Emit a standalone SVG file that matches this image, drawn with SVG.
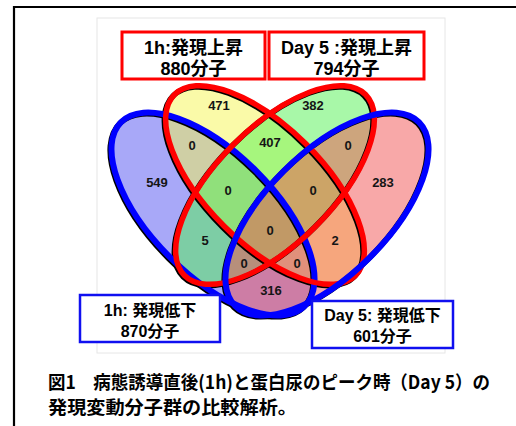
<svg xmlns="http://www.w3.org/2000/svg" width="516" height="426" viewBox="0 0 516 426">
<style>
.num{font-family:"Liberation Sans",Arial,sans-serif;font-weight:bold;font-size:13px;fill:#151515;text-anchor:middle}
.lbl{font-family:"Liberation Sans","Noto Sans CJK JP",sans-serif;font-weight:bold;fill:#000;text-anchor:middle}
.cap{font-family:"Noto Sans CJK JP",sans-serif;font-weight:bold;font-size:18.5px;fill:#000}
.rbox{fill:#fff;stroke:#ff0000;stroke-width:3}
.bbox{fill:#fff;stroke:#1010f0;stroke-width:2.5}
.sh{fill:none;stroke:#000;stroke-width:5.5}
</style>
<rect width="516" height="426" fill="#fff"/>
<path d="M14,426 V7 H516" fill="none" stroke="#000" stroke-width="2.2"/>
<rect x="97" y="18" width="348" height="335" fill="#fff" stroke="#e6e6e6" stroke-width="1"/>
<defs>
<ellipse id="eB" cx="213" cy="214" rx="130" ry="61" transform="rotate(45 213 214)"/>
<ellipse id="eY" cx="265" cy="185" rx="128" ry="58" transform="rotate(45 265 185)"/>
<ellipse id="eG" cx="275" cy="185" rx="128" ry="58" transform="rotate(-45 275 185)"/>
<ellipse id="eP" cx="327" cy="214" rx="130" ry="61" transform="rotate(-45 327 214)"/>
</defs>
<g id="fills">
<use href="#eB" fill="#5151f1" fill-opacity="0.5"/>
<use href="#eY" fill="#f5f551" fill-opacity="0.5"/>
<use href="#eG" fill="#51f151" fill-opacity="0.5"/>
<use href="#eP" fill="#f15151" fill-opacity="0.5"/>
</g>
<g id="shadows" transform="translate(-1.3,1.3)">
<use href="#eB" class="sh"/>
<use href="#eY" class="sh"/>
<use href="#eG" class="sh"/>
<use href="#eP" class="sh"/>
</g>
<g id="set-1h-down"><use href="#eB" fill="none" stroke="#0000ff" stroke-width="6"/></g>
<g id="set-1h-up"><use href="#eY" fill="none" stroke="#ff0000" stroke-width="5.5"/></g>
<g id="set-day5-up"><use href="#eG" fill="none" stroke="#ff0000" stroke-width="5.5"/></g>
<g id="set-day5-down"><use href="#eP" fill="none" stroke="#0000ff" stroke-width="6"/></g>
<g id="counts">
<text class="num" x="219" y="110">471</text>
<text class="num" x="313" y="110">382</text>
<text class="num" x="192" y="150">0</text>
<text class="num" x="270" y="147">407</text>
<text class="num" x="348" y="150">0</text>
<text class="num" x="157" y="187">549</text>
<text class="num" x="383" y="187">283</text>
<text class="num" x="228" y="195">0</text>
<text class="num" x="313" y="195">0</text>
<text class="num" x="270" y="235">0</text>
<text class="num" x="205" y="245">5</text>
<text class="num" x="335" y="245">2</text>
<text class="num" x="244" y="268">0</text>
<text class="num" x="297" y="268">0</text>
<text class="num" x="271" y="295">316</text>
</g>
<g id="label-1h-up">
<rect class="rbox" x="122" y="32" width="143" height="47"/>
<text class="lbl" x="193.5" y="54" font-size="18">1h:発現上昇</text>
<text class="lbl" x="193.5" y="75" font-size="18">880分子</text>
</g>
<g id="label-day5-up">
<rect class="rbox" x="269" y="32" width="155" height="47"/>
<text class="lbl" x="346.5" y="54" font-size="18">Day 5 :発現上昇</text>
<text class="lbl" x="346.5" y="75" font-size="18">794分子</text>
</g>
<g id="label-1h-down">
<rect class="bbox" x="80" y="295" width="140" height="47"/>
<text class="lbl" x="150" y="316" font-size="16">1h: 発現低下</text>
<text class="lbl" x="150" y="337" font-size="16">870分子</text>
</g>
<g id="label-day5-down">
<rect class="bbox" x="312" y="301" width="141" height="47"/>
<text class="lbl" x="382.5" y="321" font-size="16">Day 5: 発現低下</text>
<text class="lbl" x="382.5" y="342" font-size="16">601分子</text>
</g>
<g id="caption">
<text class="cap" x="48" y="389" textLength="442" lengthAdjust="spacingAndGlyphs">図1　病態誘導直後(1h)と蛋白尿のピーク時（Day 5）の</text>
<text class="cap" x="48" y="414" textLength="249" lengthAdjust="spacingAndGlyphs">発現変動分子群の比較解析。</text>
</g>
</svg>
